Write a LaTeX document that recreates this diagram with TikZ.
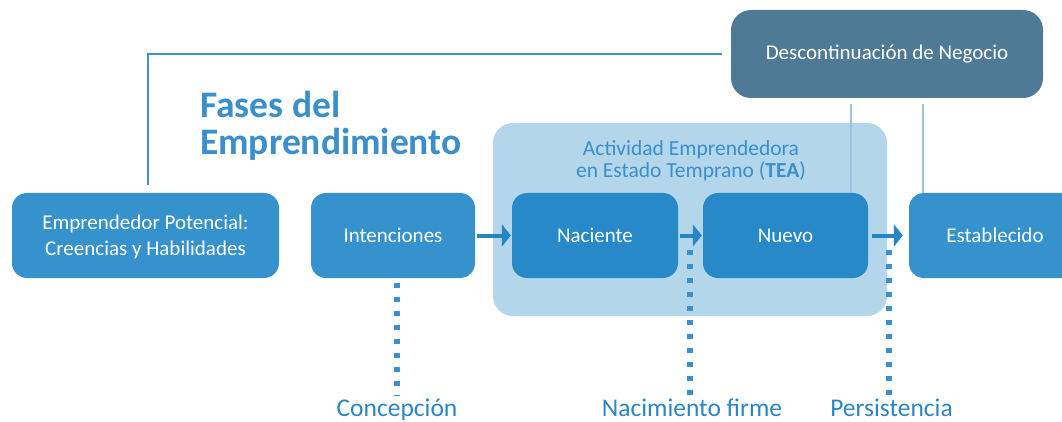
\documentclass[tikz,border=0pt]{standalone}
\usepackage{fontspec}
\setmainfont{Carlito}
\usetikzlibrary{arrows.meta,calc}
\definecolor{boxblue}{HTML}{3592CC}
\definecolor{darkbox}{HTML}{2789C7}
\definecolor{tealight}{HTML}{B3D6EB}
\definecolor{slate}{HTML}{4F7A96}
\definecolor{titleblue}{HTML}{3A8FCC}
\definecolor{labelblue}{HTML}{2B86C5}
\definecolor{lineblue}{HTML}{3A93CC}
\definecolor{thinline}{HTML}{9CC3DF}
\definecolor{arrowblue}{HTML}{2586C6}
\definecolor{dotblue}{HTML}{3990CC}
\begin{document}
\begin{tikzpicture}[x=1pt,y=-1pt,
  phase/.style={rectangle, rounded corners=15pt, fill=boxblue, text=white,
    font=\fontsize{21}{26}\selectfont, inner sep=0pt, align=center, minimum height=85pt},
  tealbox/.style={phase, fill=darkbox},
  flowarrow/.style={draw=arrowblue, line width=4pt, -{Triangle[length=9pt,width=22pt]}},
  milestone/.style={draw=dotblue, line width=5.5pt, dash pattern=on 5pt off 9pt},
  milelabel/.style={text=labelblue, font=\fontsize{25.5}{28}\selectfont, inner sep=0pt, anchor=base},
  thinlink/.style={draw=thinline, line width=1.3pt}]
\clip (0,0) rectangle (1062,422);
\fill[white] (0,0) rectangle (1062,422);
% TEA background
\node[rectangle, rounded corners=20pt, fill=tealight, minimum width=394pt, minimum height=193pt, inner sep=0pt] (tea) at (690,219.5) {};
\node[text=titleblue, font=\fontsize{21.5}{22}\selectfont, align=center, inner sep=0pt, anchor=base] (tealabel) at (691,177.6) {Actividad Emprendedora\\en Estado Temprano (\textbf{TEA})};
% boxes
\node[phase, minimum width=267pt, text depth=-2pt] (emp) at (145.5,235.5) {Emprendedor Potencial:\\Creencias y Habilidades};
\node[phase, minimum width=164pt] (int) at (393,235.5) {Intenciones};
\node[tealbox, minimum width=166pt] (nac) at (595,235.5) {Naciente};
\node[tealbox, minimum width=165pt] (nue) at (785.5,235.5) {Nuevo};
\node[phase, minimum width=172pt] (est) at (995,235.5) {Establecido};
\node[phase, fill=slate, rounded corners=20pt, minimum width=312pt, minimum height=88pt] (desc) at (887,54) {Descontinuación de Negocio};
% title
\node[text=titleblue, font=\fontsize{37.5}{37}\selectfont\bfseries, align=left, inner sep=0pt, anchor=north west] (title) at (200,91) {Fases del\\Emprendimiento};
% link from potential entrepreneur to discontinuation
\coordinate (empup) at (148,185);
\draw[draw=lineblue, line width=2pt] (empup) |- ([xshift=-9pt]desc.west);
% thin links from discontinuation
\coordinate (d1) at ($(desc.south)+(-36,6)$);
\coordinate (d2) at ($(desc.south)+(36,6)$);
\draw[thinlink] (d1) -- (d1 |- nue.north);
\draw[thinlink] (d2) -- (d2 |- est.north);
% arrows
\draw[flowarrow, shorten <=2pt, shorten >=1pt] (int.east) -- (nac.west);
\draw[flowarrow, shorten <=2pt, shorten >=1pt] (nac.east) -- (nue.west);
\draw[flowarrow, shorten <=4pt, shorten >=6pt] (nue.east) -- (est.west);
% milestones
\node[milelabel] (conc) at (397,416) {Concepción};
\node[milelabel] (nacf) at (692,416) {Nacimiento firme};
\node[milelabel] (pers) at (891.5,416) {Persistencia};
\coordinate (m1) at (397,283);
\coordinate (m2) at (690,250);
\coordinate (m3) at (889,250);
\draw[milestone, shorten >=2pt] (m1) -- (m1 |- conc.north);
\draw[milestone, shorten >=2pt] (m2) -- (m2 |- nacf.north);
\draw[milestone, shorten >=2pt] (m3) -- (m3 |- pers.north);
\end{tikzpicture}
\end{document}
